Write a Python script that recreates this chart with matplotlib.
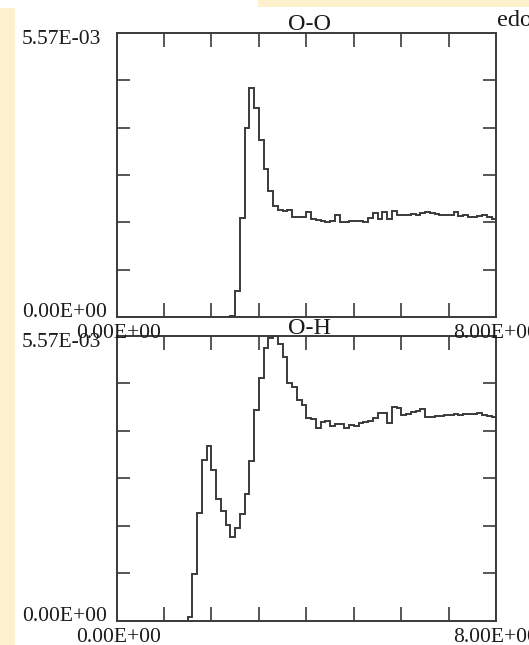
import numpy as np
import matplotlib

matplotlib.use("Agg")
import matplotlib.pyplot as plt
from matplotlib.patches import Rectangle

# radial bins (0.0 .. 8.0, width 0.1)
bin_edges = np.linspace(0.0, 8.0, 81)

# O-O values, bins 2.4 .. 7.9 (everything before is zero)
g_oo_tail = [
    0.02, 0.51, 1.95, 3.71, 4.50, 4.09,
    3.48, 2.90, 2.48, 2.18, 2.10, 2.08, 2.09, 1.96, 1.96, 1.96,
    2.06, 1.93, 1.91, 1.88, 1.87, 1.89, 2.00, 1.86, 1.86, 1.89,
    1.89, 1.89, 1.86, 1.94, 2.03, 1.93, 2.05, 1.93, 2.08, 2.00,
    2.00, 2.01, 2.02, 2.01, 2.03, 2.06, 2.03, 2.02, 2.01, 2.01,
    2.01, 2.06, 1.99, 2.00, 1.97, 1.97, 1.99, 2.01, 1.96, 1.92,
]
# O-H values, bins 1.5 .. 7.9
g_oh_tail = [
    0.065, 0.915, 2.10, 3.14, 3.41,
    2.95, 2.38, 2.14, 1.87, 1.63, 1.82, 2.08, 2.48, 3.12, 4.12,
    4.74, 5.34, 5.54, 5.57, 5.41, 5.15, 4.65, 4.57, 4.31, 4.22,
    3.97, 3.95, 3.77, 3.88, 3.90, 3.80, 3.84, 3.84, 3.77, 3.82,
    3.81, 3.86, 3.88, 3.90, 3.96, 4.07, 4.07, 3.86, 4.18, 4.17,
    4.03, 4.05, 4.08, 4.10, 4.15, 3.99, 3.99, 4.00, 4.01, 4.03,
    4.02, 4.04, 4.03, 4.04, 4.05, 4.05, 4.06, 4.03, 4.00, 3.99,
]
g_oo = np.concatenate([np.zeros(24), g_oo_tail]) * 1e-3
g_oh = np.concatenate([np.zeros(15), g_oh_tail]) * 1e-3

titles = ["O-O", "O-H"]
x_min, x_max = 0.0, 8.0
y_min, y_max = 0.0, 5.57e-3
x_labels = ["0.00E+00", "8.00E+00"]
y_labels = ["0.00E+00", "5.57E-03"]

W, H = 529, 645
SERIF = "Liberation Serif"
TXT = "#1a1a1a"
LINE = "#3a3a3a"


def px(x, y):
    return x / W, 1 - y / H


fig = plt.figure(figsize=(W / 100, H / 100), dpi=100)
fig.patch.set_facecolor("white")

# pale yellow page strips
fig.patches.append(Rectangle(px(0, 645), 15 / W, 637 / H, transform=fig.transFigure,
                             facecolor="#fdf0cc", edgecolor="none", zorder=0))
fig.patches.append(Rectangle(px(258, 7), (W - 258) / W, 7 / H, transform=fig.transFigure,
                             facecolor="#fdf0cc", edgecolor="none", zorder=0))

panels = [
    (g_oo, 33, 317, "O-O"),
    (g_oh, 336, 620.7, "O-H"),
]

for (vals, top_px, bot_px, title) in panels:
    left, bottom = px(116.5, bot_px)
    ax = fig.add_axes([left, bottom, (496.3 - 116.5) / W, (bot_px - top_px) / H])
    ax.stairs(vals, bin_edges, color=LINE, linewidth=1.4)
    ax.set_xlim(x_min, x_max)
    ax.set_ylim(y_min, y_max)
    ax.set_xticks(np.arange(1, 8))
    ax.set_yticks(np.linspace(y_min, y_max, 7)[1:-1])
    ax.tick_params(axis="x", direction="in", length=10, width=1.2, color=LINE,
                   top=True, bottom=True, labelbottom=False)
    ax.tick_params(axis="y", direction="in", length=9.5, width=1.2, color=LINE,
                   left=True, right=True, labelleft=False)
    for sp in ax.spines.values():
        sp.set_color(LINE)
        sp.set_linewidth(1.4)

    # min / max labels
    fig.text(*px(22, top_px + 11.3), y_labels[1], family=SERIF, fontsize=15.5,
             color=TXT, ha="left", va="baseline")
    fig.text(*px(22, bot_px), y_labels[0], family=SERIF, fontsize=15.5,
             color=TXT, ha="left", va="baseline")
    fig.text(*px(119, bot_px + 21), x_labels[0], family=SERIF, fontsize=15.5,
             color=TXT, ha="center", va="baseline")
    fig.text(*px(496, bot_px + 21), x_labels[1], family=SERIF, fontsize=15.5,
             color=TXT, ha="center", va="baseline")
    fig.text(*px(309.7, top_px - 2.5), title, family=SERIF, fontsize=17.5,
             color=TXT, ha="center", va="baseline")

fig.text(*px(497, 26), "edo", family=SERIF, fontsize=17.5, color=TXT,
         ha="left", va="baseline")

fig.savefig("out.png", dpi=100)
